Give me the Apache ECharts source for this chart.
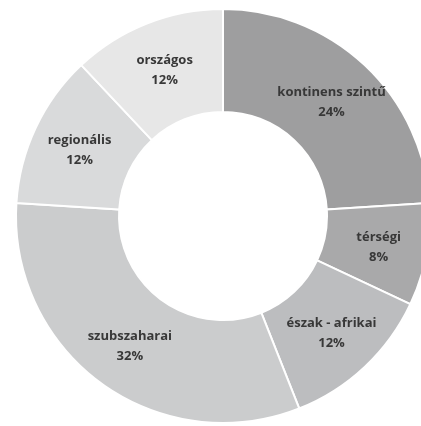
<!DOCTYPE html>
<html>
<head>
<meta charset="utf-8">
<script src="https://cdn.jsdelivr.net/npm/echarts@6/dist/echarts.min.js"></script>
<style>
  html, body { margin: 0; padding: 0; background: #fff; }
  #chart { width: 421px; height: 426px; }
</style>
</head>
<body>
<div id="chart"></div>
<script>
var categories = ['kontinens szintű', 'térségi', 'észak - afrikai', 'szubszaharai', 'regionális', 'országos'];
var shares = [24, 8, 12, 32, 12, 12];
var colors = ['#9e9e9f', '#a9a9aa', '#bcbdbf', '#cbcccd', '#d9dadb', '#e7e7e7'];

var chart = echarts.init(document.getElementById('chart'));

var data = categories.map(function (name, i) {
  return { name: name, value: shares[i], itemStyle: { color: colors[i] } };
});

var option = {
  backgroundColor: '#ffffff',
  animation: false,
  series: [{
    type: 'pie',
    center: [223, 216],
    radius: [104, 207],
    startAngle: 90,
    clockwise: true,
    itemStyle: {
      borderColor: '#ffffff',
      borderWidth: 2
    },
    label: {
      position: 'inside',
      formatter: '{b}\n{c}%',
      color: '#383838',
      fontFamily: 'Open Sans',
      fontWeight: 'bold',
      fontSize: 13,
      lineHeight: 20,
      offset: [0, 2]
    },
    labelLine: { show: false },
    emphasis: { disabled: true },
    data: data
  }]
};

chart.setOption(option);
</script>
</body>
</html>
